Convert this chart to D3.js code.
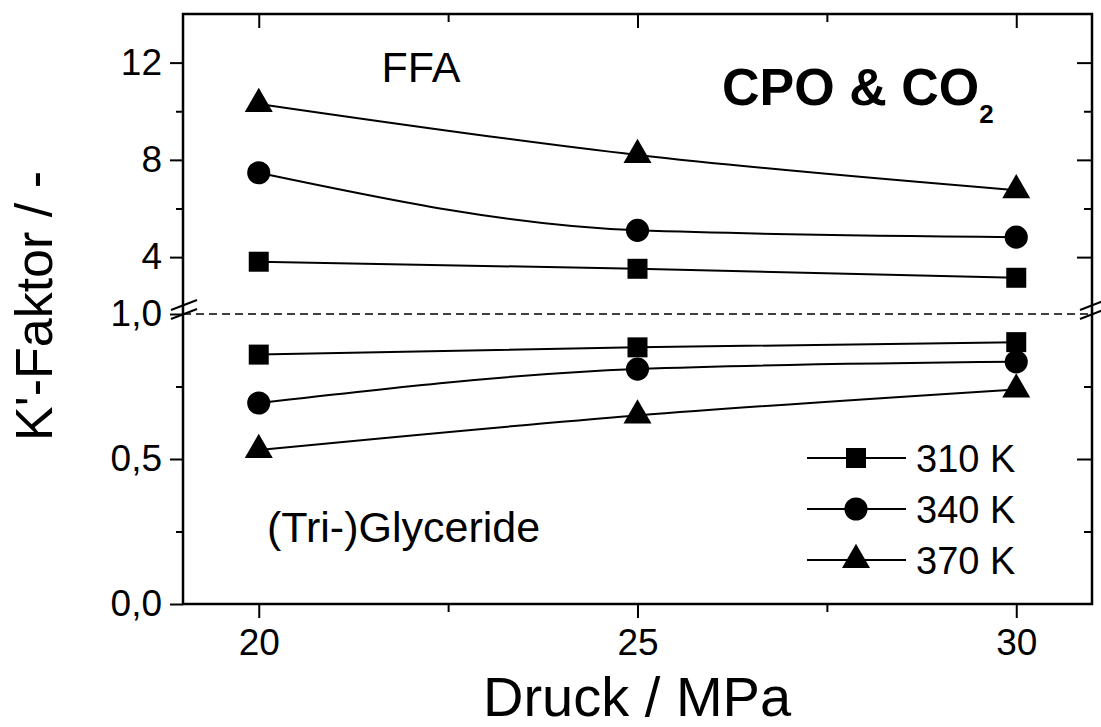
<!DOCTYPE html>
<html>
<head>
<meta charset="utf-8">
<script src="https://cdn.jsdelivr.net/npm/d3@7"></script>
<style>
  body { margin: 0; background: #fff; }
  svg text { font-family: Arial, "Liberation Sans", sans-serif; fill: #000; }
</style>
</head>
<body>
<div class="chart"></div>
<script>
// data
const pressure = [20, 25, 30];
const temps = ["310 K", "340 K", "370 K"];
const ffa310 = [3.81, 3.52, 3.15];
const ffa340 = [7.47, 5.10, 4.82];
const ffa370 = [10.3, 8.2, 6.75];
const gly310 = [0.86, 0.885, 0.903];
const gly340 = [0.693, 0.81, 0.835];
const gly370 = [0.531, 0.65, 0.74];
const xTicks = [20, 25, 30];
const upperTicks = [4, 8, 12];
const upperMinor = [6, 10];
const lowerTicks = [0, 0.5, 1.0];
const lowerMinor = [0.25, 0.75];

const W = 1101, H = 727;
const mLeft = 183, mRight = 1092, mTop = 14, mBottom = 604, breakY = 314;

const svg = d3.select(".chart").append("svg")
    .attr("width", W).attr("height", H);

const x = d3.scaleLinear().domain([19, 31]).range([mLeft, mRight]);
const yUp = d3.scaleLinear().domain([1.66, 14]).range([breakY, mTop]);
const yLo = d3.scaleLinear().domain([0, 1]).range([mBottom, breakY]);

const de = d3.formatLocale({decimal: ",", thousands: ".", grouping: [3], currency: ["", "€"]});
const f1 = de.format(".1f");

function styleAxis(g, fs) {
  g.select(".domain").remove();
  g.selectAll(".tick line").attr("stroke", "#000").attr("stroke-width", 2);
  g.selectAll(".tick text").style("font-size", fs + "px");
}

// bottom axis
const gb = svg.append("g").attr("transform", `translate(0,${mBottom})`)
  .call(d3.axisBottom(x).tickValues(xTicks).tickSize(14).tickPadding(11));
styleAxis(gb, 37);
const gbm = svg.append("g").attr("transform", `translate(0,${mBottom})`)
  .call(d3.axisBottom(x).tickValues([22.5, 27.5]).tickSize(8).tickFormat(""));
styleAxis(gbm, 0);

// top axis (inward)
const gt = svg.append("g").attr("transform", `translate(0,${mTop})`)
  .call(d3.axisTop(x).tickValues(xTicks).tickSize(-14).tickFormat(""));
styleAxis(gt, 0);
const gtm = svg.append("g").attr("transform", `translate(0,${mTop})`)
  .call(d3.axisTop(x).tickValues([22.5, 27.5]).tickSize(-8).tickFormat(""));
styleAxis(gtm, 0);

// left axes
const gl1 = svg.append("g").attr("transform", `translate(${mLeft},0)`)
  .call(d3.axisLeft(yUp).tickValues(upperTicks).tickSize(13).tickPadding(8).tickFormat(d3.format("d")));
styleAxis(gl1, 37);
const gl2 = svg.append("g").attr("transform", `translate(${mLeft},0)`)
  .call(d3.axisLeft(yLo).tickValues(lowerTicks).tickSize(13).tickPadding(8).tickFormat(f1));
styleAxis(gl2, 37);
const gl3 = svg.append("g").attr("transform", `translate(${mLeft},0)`)
  .call(d3.axisLeft(yUp).tickValues(upperMinor).tickSize(7).tickFormat(""));
styleAxis(gl3, 0);
const gl4 = svg.append("g").attr("transform", `translate(${mLeft},0)`)
  .call(d3.axisLeft(yLo).tickValues(lowerMinor).tickSize(7).tickFormat(""));
styleAxis(gl4, 0);

// right axes (inward)
[[yUp, upperTicks, 15], [yUp, upperMinor, 8], [yLo, [0.5], 15], [yLo, lowerMinor, 8]].forEach(([sc, tv, sz]) => {
  const g = svg.append("g").attr("transform", `translate(${mRight},0)`)
    .call(d3.axisRight(sc).tickValues(tv).tickSize(-sz).tickFormat(""));
  styleAxis(g, 0);
});

// frame
svg.append("rect")
  .attr("x", mLeft).attr("y", mTop)
  .attr("width", mRight - mLeft).attr("height", mBottom - mTop)
  .attr("fill", "none").attr("stroke", "#000").attr("stroke-width", 2.5);

// dashed break line at 1,0
svg.append("line")
  .attr("x1", mLeft).attr("x2", mRight)
  .attr("y1", yLo(1)).attr("y2", yLo(1))
  .attr("stroke", "#000").attr("stroke-width", 1.5)
  .attr("stroke-dasharray", "8,5");

// break marks
[mLeft, mRight].forEach(ax => {
  [-5, 4].forEach(off => {
    svg.append("line")
      .attr("x1", ax - 12).attr("y1", breakY + off + 1)
      .attr("x2", ax + 14).attr("y2", breakY + off - 9)
      .attr("stroke", "#000").attr("stroke-width", 2);
  });
});

// series
const series = [
  {name: temps[0], up: ffa310, lo: gly310, sym: d3.symbolSquare, size: 400},
  {name: temps[1], up: ffa340, lo: gly340, sym: d3.symbolCircle, size: 420},
  {name: temps[2], up: ffa370, lo: gly370, sym: d3.symbolTriangle, size: 340}
];

const line = sc => d3.line()
  .x((d, i) => x(pressure[i]))
  .y(d => sc(d))
  .curve(d3.curveMonotoneX);

series.forEach(s => {
  [[s.up, yUp], [s.lo, yLo]].forEach(([vals, sc]) => {
    svg.append("path")
      .datum(vals)
      .attr("d", line(sc))
      .attr("fill", "none").attr("stroke", "#000").attr("stroke-width", 2);
    svg.selectAll(null)
      .data(vals)
      .enter()
      .append("path")
      .attr("d", d3.symbol().type(s.sym).size(s.size))
      .attr("transform", (d, i) => `translate(${x(pressure[i])},${sc(d)})`)
      .attr("fill", "#000");
  });
});

// legend
const legend = svg.selectAll(".legend")
  .data(series)
  .enter()
  .append("g")
  .attr("transform", (d, i) => `translate(807,${458 + i * 51})`);
legend.append("line")
  .attr("x1", 0).attr("x2", 99)
  .attr("stroke", "#000").attr("stroke-width", 2);
legend.append("path")
  .attr("d", d => d3.symbol().type(d.sym).size(d.size)())
  .attr("transform", "translate(49,0)");
legend.append("text")
  .attr("x", 109).attr("y", 14)
  .style("font-size", "38px")
  .text(d => d.name);

// annotations
svg.append("text")
  .attr("x", 421).attr("y", 82)
  .attr("text-anchor", "middle")
  .style("font-size", "43px")
  .text("FFA");

const t = svg.append("text")
  .attr("x", 722).attr("y", 105)
  .style("font-size", "52px").style("font-weight", "bold");
t.append("tspan").text("CPO & CO");
t.append("tspan").attr("dy", 18).style("font-size", "26px").text("2");

svg.append("text")
  .attr("x", 267).attr("y", 542)
  .style("font-size", "43px")
  .text("(Tri-)Glyceride");

// axis titles
svg.append("text")
  .attr("x", 637).attr("y", 716)
  .attr("text-anchor", "middle")
  .style("font-size", "56px")
  .text("Druck / MPa");

svg.append("text")
  .attr("transform", "translate(52,306) rotate(-90)")
  .attr("text-anchor", "middle")
  .style("font-size", "52px")
  .text("K'-Faktor / -");
</script>
</body>
</html>
